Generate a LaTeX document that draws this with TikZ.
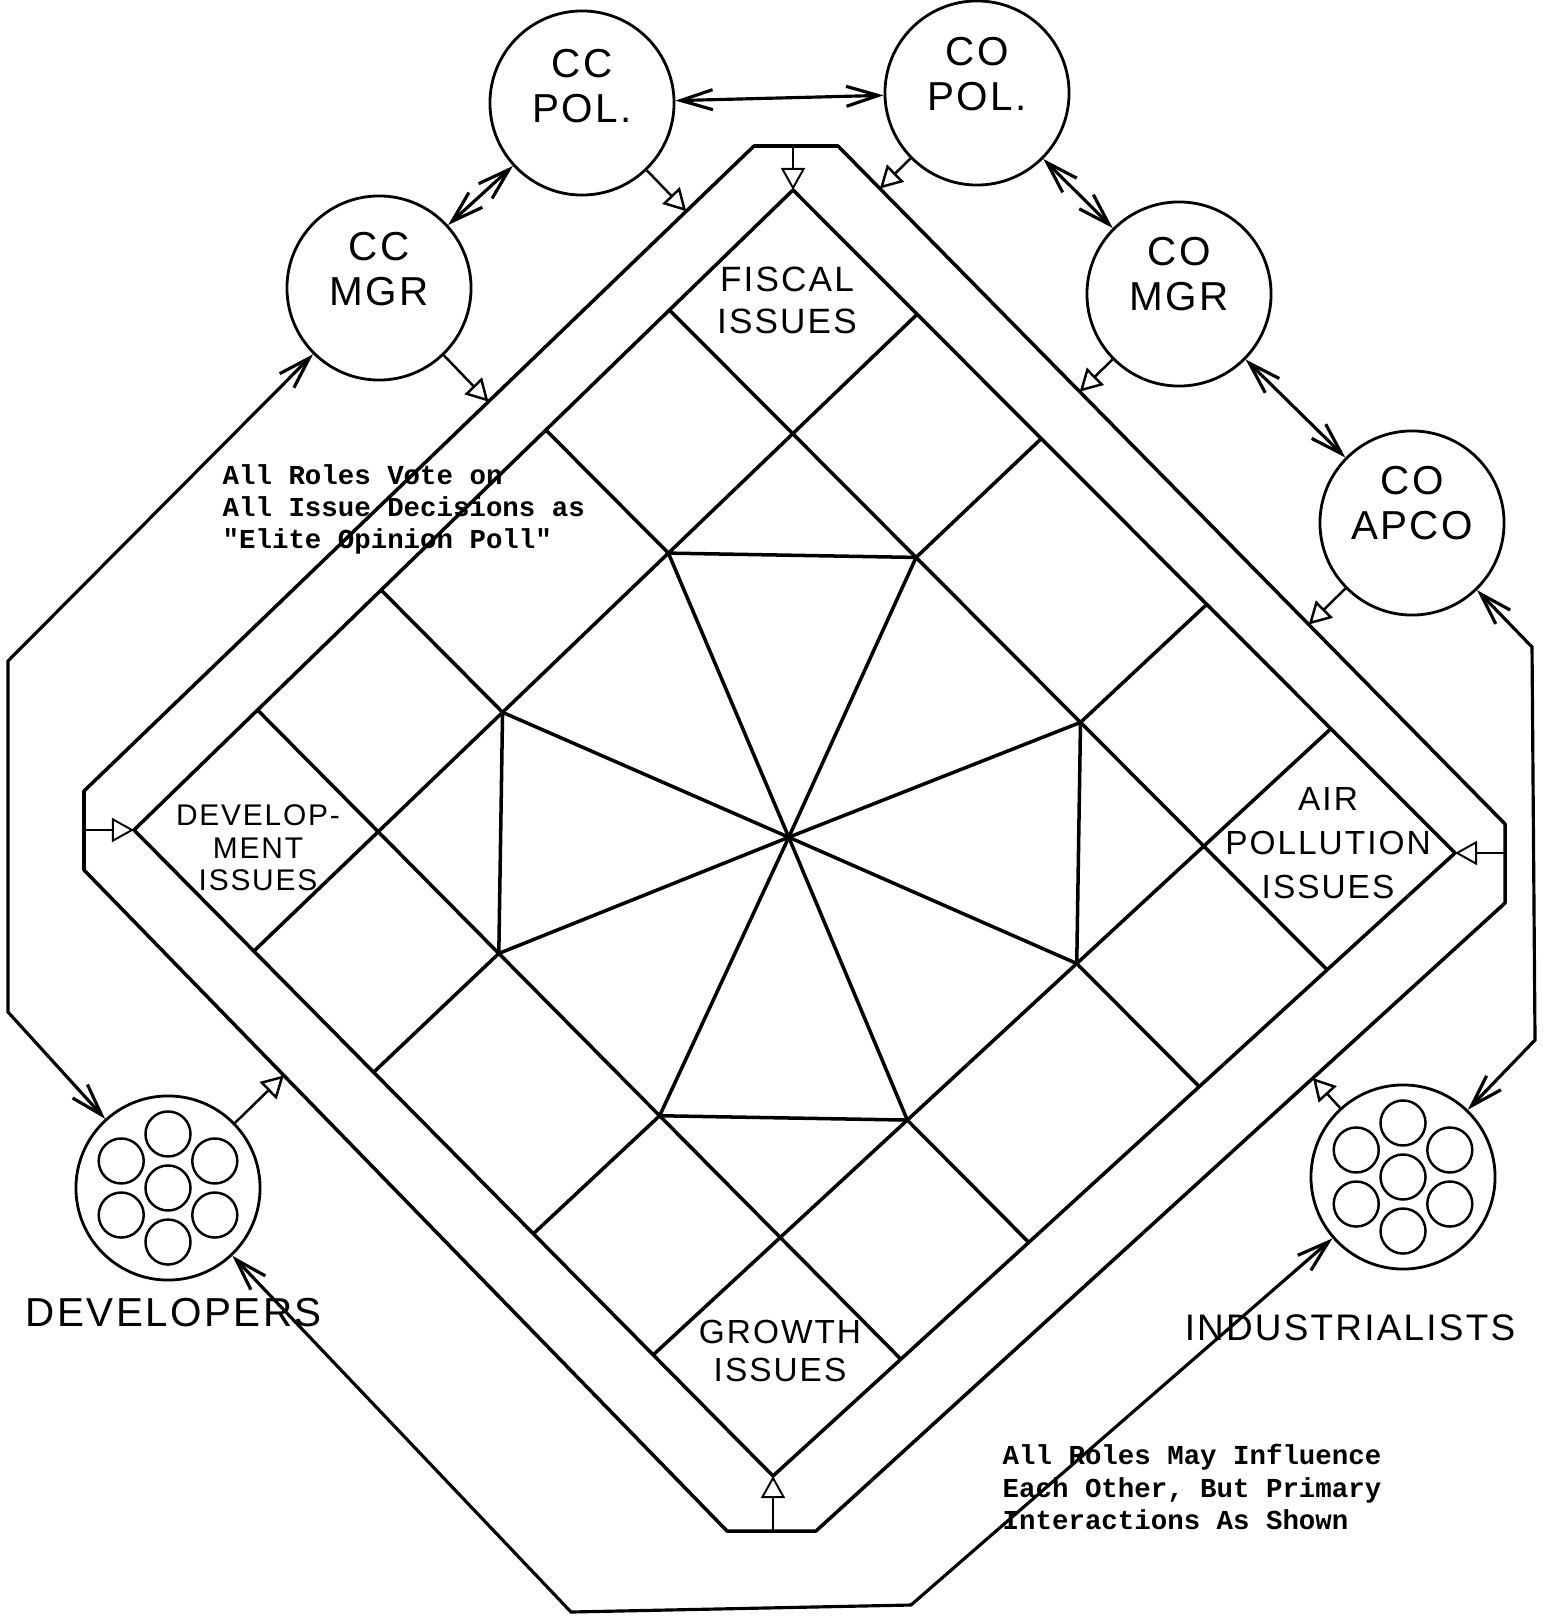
\documentclass[tikz,border=0pt]{standalone}
\usepackage{fontspec}
\setmainfont{Liberation Sans}
\setmonofont{Liberation Mono}
\newfontfamily\handfont[LetterSpace=6]{Liberation Sans}
\usetikzlibrary{arrows.meta, calc, positioning}

\begin{document}
\begin{tikzpicture}[
    x=0.01cm, y=-0.01cm,
    role/.style={circle, draw, line width=0.8pt, minimum size=1.84cm, inner sep=0pt},
    rolename/.style={font=\handfont\fontsize{11.5}{13}\selectfont, align=center, inner sep=0pt},
    member/.style={circle, draw, line width=0.7pt, minimum size=0.45cm, inner sep=0pt},
    groupname/.style={font=\handfont\fontsize{#1}{14}\selectfont, inner sep=0pt},
    issue/.style n args={2}{font=\handfont\fontsize{#1}{#2}\selectfont, align=center, inner sep=0pt},
    note/.style={font=\ttfamily\bfseries\fontsize{7.8}{9.1}\selectfont, align=left, anchor=north west, inner sep=0pt},
    board/.style={line width=1pt, line join=round},
    link/.style={line width=0.9pt, {Straight Barb[length=3.2mm,width=2mm]}-{Straight Barb[length=3.2mm,width=2mm]}},
    feed/.style={line width=0.7pt, -{Triangle[open,length=2.2mm,width=2.4mm]}}
]

\useasboundingbox (0,0) rectangle (1542,1619);

% Issue board corners
\coordinate (T) at (793,190);
\coordinate (R) at (1455,853);
\coordinate (B) at (773,1476);
\coordinate (L) at (134,830);

% Grid points (sixteenths along the board sides)
\foreach \u in {0,3,6,8,10,13,16} {
    \coordinate (tr\u) at ($(T)!\u/16!(R)$);
    \coordinate (lb\u) at ($(L)!\u/16!(B)$);
    \foreach \v in {0,3,6,8,10,13,16}
        \coordinate (g\u-\v) at ($(tr\u)!\v/16!(lb\u)$);
}

% Outer edge of the band
\coordinate (b1) at (754,146);
\coordinate (b2) at (838,146);
\coordinate (b3) at (1505,824);
\coordinate (b4) at (1505,903);
\coordinate (b5) at (816,1531);
\coordinate (b6) at (727,1531);
\coordinate (b7) at (84,870);
\coordinate (b8) at (84,791);
\draw[board] (b1) -- (b2) -- (b3) -- (b4) -- (b5) -- (b6) -- (b7) -- (b8) -- cycle;

% Board and issue grids
\draw[board] (T) -- (R) -- (B) -- (L) -- cycle;
\draw[board] (g3-0) -- (g3-16) (g13-0) -- (g13-16) (g0-3) -- (g16-3) (g0-13) -- (g16-13);
\draw[board] (g6-0) -- (g6-3) (g6-13) -- (g6-16) (g10-0) -- (g10-3) (g10-13) -- (g10-16)
             (g0-6) -- (g3-6) (g13-6) -- (g16-6) (g0-10) -- (g3-10) (g13-10) -- (g16-10);

% Center octagon and spokes
\draw[board] (g3-6) -- (g6-3) (g10-3) -- (g13-6) (g13-10) -- (g10-13) (g6-13) -- (g3-10);
\foreach \p in {3-6,6-3,10-3,13-6,13-10,10-13,6-13,3-10}
    \draw[board] (g8-8) -- (g\p);

% Issue labels
\node[issue={10}{12}] (fiscal) at (787,300) {FISCAL\\ISSUES};
\node[issue={8.5}{9.2}] (develop) at (258,848) {DEVELOP-\\MENT\\ISSUES};
\node[issue={9.5}{12.5}] (air) at (1328,843) {AIR\\POLLUTION\\ISSUES};
\node[issue={9.5}{10.8}] (growth) at (780,1351) {GROWTH\\ISSUES};

% Band feeds into the issues
\coordinate (inT) at ($(b1)!(T)!(b2)$);
\coordinate (inR) at ($(b3)!(R)!(b4)$);
\coordinate (inB) at ($(b5)!(B)!(b6)$);
\coordinate (inL) at ($(b7)!(L)!(b8)$);
\draw[feed, line width=0.55pt] (inT) -- (T);
\draw[feed, line width=0.55pt] (inR) -- (R);
\draw[feed, line width=0.55pt] (inB) -- (B);
\draw[feed, line width=0.55pt] (inL) -- (L);

% Roles
\node[role] (ccpol) at (582,103) {};
\node[role] (copol) at (977,93) {};
\node[role] (ccmgr) at (379,288) {};
\node[role] (comgr) at (1179,294) {};
\node[role] (coapco) at (1412,523) {};
\node[role] (dev) at (168,1188) {};
\node[role] (ind) at (1403,1177) {};

\node[rolename] (ccpol-name) at ([yshift=1.7mm]ccpol.center) {CC\\POL.};
\node[rolename] (copol-name) at ([yshift=1.9mm]copol.center) {CO\\POL.};
\node[rolename] (ccmgr-name) at ([yshift=1.9mm]ccmgr.center) {CC\\MGR};
\node[rolename] (comgr-name) at ([yshift=2mm]comgr.center) {CO\\MGR};
\node[rolename] (coapco-name) at ([yshift=2mm]coapco.center) {CO\\APCO};

% Group members
\foreach \g in {dev,ind} {
    \node[member] (\g-0) at (\g) {};
    \foreach \a in {30,90,...,330}
        \node[member] (\g-\a) at ($(\g)+(\a:0.54cm)$) {};
}
\node[groupname=11.5, below=1.6mm of dev, xshift=0.6mm] (devname) {DEVELOPERS};
\node[groupname=10.5, below=4.4mm of ind, xshift=-5.3mm] (indname) {INDUSTRIALISTS};

% Notes
\node[note] (vote) at (222,464) {All Roles Vote on\\All Issue Decisions as\\"Elite Opinion Poll"};
\node[note] (influence) at (1002,1444) {All Roles May Influence\\Each Other, But Primary\\Interactions As Shown};

% Role interactions
\draw[link] (ccpol) -- (copol);
\draw[link] (ccpol) -- (ccmgr);
\draw[link] (copol) -- (comgr);
\draw[link] (comgr) -- (coapco);

% Outer loop
\coordinate (lc1) at (8,661);
\coordinate (lc2) at (8,1012);
\coordinate (rc1) at (1532,647);
\coordinate (rc2) at (1535,1040);
\coordinate (bc1) at (571,1612);
\coordinate (bc2) at (911,1605);
\draw[link] (ccmgr) -- (lc1) -- (lc2) -- (dev);
\draw[link] (coapco) -- (rc1) -- (rc2) -- (ind);
\draw[link] (dev) -- (bc1) -- (bc2) -- (ind);

% Roles feed the band
\coordinate (ccpol-hit) at ($(b1)!(ccpol)!(b8)$);
\coordinate (ccmgr-hit) at ($(b1)!(ccmgr)!(b8)$);
\coordinate (copol-hit) at ($(b2)!(copol)!(b3)$);
\coordinate (comgr-hit) at ($(b2)!(comgr)!(b3)$);
\coordinate (coapco-hit) at ($(b2)!(coapco)!(b3)$);
\coordinate (ind-hit) at ($(b4)!(ind)!(b5)$);
\coordinate (dev-hit) at ($(b6)!(dev)!(b7)$);
\draw[feed] (ccpol) -- (ccpol-hit);
\draw[feed] (ccmgr) -- (ccmgr-hit);
\draw[feed] (copol) -- (copol-hit);
\draw[feed] (comgr) -- (comgr-hit);
\draw[feed] (coapco) -- (coapco-hit);
\draw[feed] (ind) -- (ind-hit);
\draw[feed] (dev) -- (dev-hit);

\end{tikzpicture}
\end{document}
